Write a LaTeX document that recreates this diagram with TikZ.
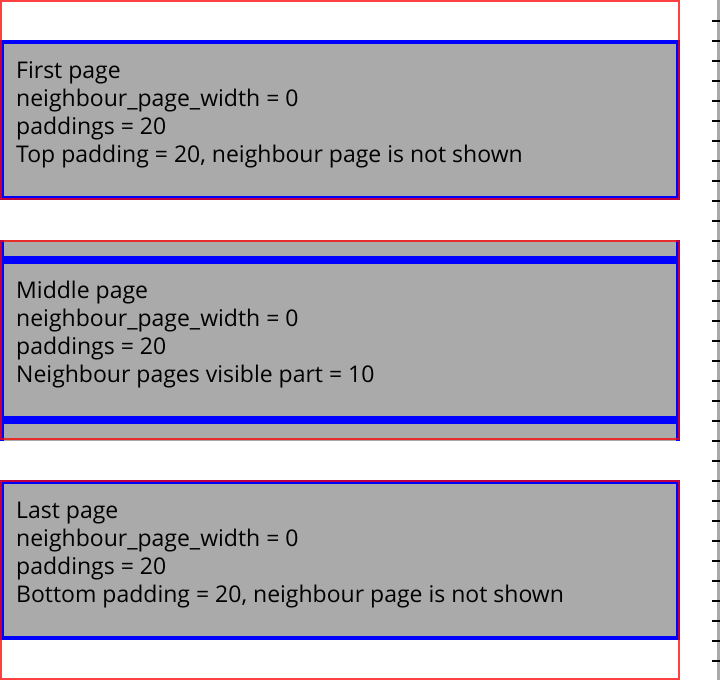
\documentclass[tikz,border=0pt]{standalone}
\usepackage{fontspec}
\setmainfont{Open Sans}
\begin{document}
\begin{tikzpicture}[x=1pt,y=-1pt,
  pagebox/.style={draw=pageblue,line width=4pt,fill=pagegrey},
  framebox/.style={draw=red,line width=2pt,draw opacity=0.75},
  caption/.style={anchor=base west,inner sep=0pt,font=\fontsize{23}{28}\selectfont},
  tick/.style={draw=black,line width=2pt}]
\definecolor{pageblue}{RGB}{0,0,255}
\definecolor{pagegrey}{RGB}{170,170,170}
\useasboundingbox (0,0) rectangle (720,680);

% first page
\draw[pagebox] (2,42) rectangle (678,198);
\draw[framebox] (1,1) rectangle (679,199);
\node[caption] (f1) at (16,78.5) {First page};
\node[caption] (f2) at (16,106.5) {neighbour\_page\_width = 0};
\node[caption] (f3) at (16,134.5) {paddings = 20};
\node[caption] (f4) at (16,162.5) {Top padding = 20, neighbour page is not shown};

% middle page with both neighbours peeking in
\begin{scope}
  \clip (0,240) rectangle (680,440);
  \draw[pagebox] (2,102) rectangle (678,258);
  \draw[pagebox] (2,262) rectangle (678,418);
  \draw[pagebox] (2,422) rectangle (678,578);
\end{scope}
\draw[framebox] (1,241) rectangle (679,439);
\node[caption] (m1) at (16,298.5) {Middle page};
\node[caption] (m2) at (16,326.5) {neighbour\_page\_width = 0};
\node[caption] (m3) at (16,354.5) {paddings = 20};
\node[caption] (m4) at (16,382.5) {Neighbour pages visible part = 10};

% last page
\draw[pagebox] (2,482) rectangle (678,638);
\draw[framebox] (1,481) rectangle (679,679);
\node[caption] (l1) at (16,518.5) {Last page};
\node[caption] (l2) at (16,546.5) {neighbour\_page\_width = 0};
\node[caption] (l3) at (16,574.5) {paddings = 20};
\node[caption] (l4) at (16,602.5) {Bottom padding = 20, neighbour page is not shown};

% ruler
\draw[draw=pagegrey,line width=3pt] (718.5,0) -- (718.5,680);
\foreach \y in {20,40,...,660}
  \draw[tick] (712,\y+1) -- (720,\y+1);
\end{tikzpicture}
\end{document}
